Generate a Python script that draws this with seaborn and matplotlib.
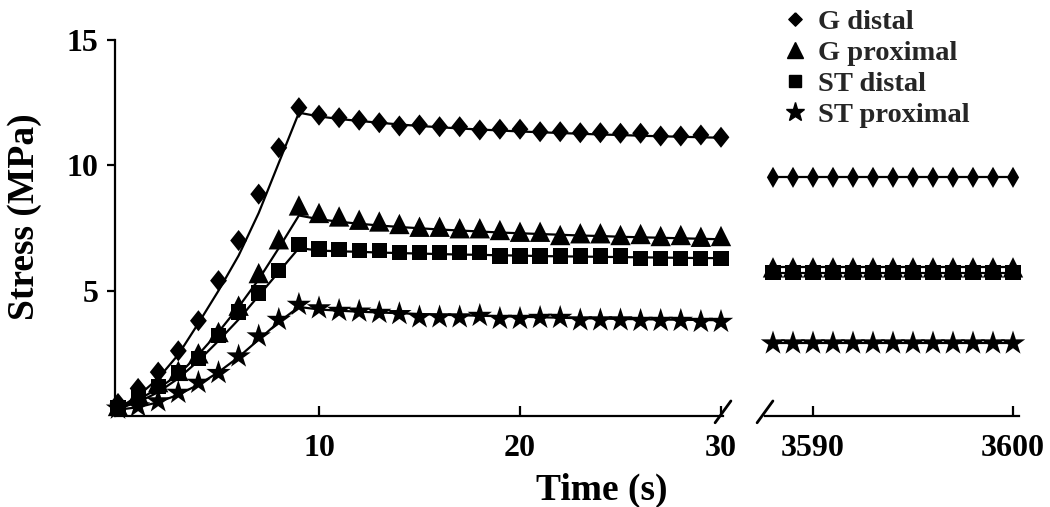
import numpy as np
import pandas as pd
import matplotlib
matplotlib.use("Agg")
import matplotlib.pyplot as plt
import seaborn as sns
from matplotlib.lines import Line2D

# ---------------- data ----------------
series_names = ["G distal", "G proximal", "ST distal", "ST proximal"]

time_left = list(range(0, 31))
g_distal = [0.5, 1.1, 1.75, 2.6, 3.8, 5.4, 7.0, 8.85, 10.7, 12.3,
            12.0, 11.9, 11.8, 11.7, 11.57, 11.61, 11.54, 11.54, 11.41, 11.44, 11.44,
            11.34, 11.34, 11.30, 11.30, 11.28, 11.28, 11.17, 11.17, 11.21, 11.12]
g_proximal = [0.4, 0.9, 1.35, 1.8, 2.5, 3.35, 4.4, 5.7, 7.05, 8.4,
              8.1, 7.96, 7.83, 7.76, 7.66, 7.55, 7.55, 7.49, 7.49, 7.42, 7.35,
              7.35, 7.22, 7.29, 7.29, 7.22, 7.26, 7.18, 7.22, 7.15, 7.18]
st_distal = [0.35, 0.74, 1.17, 1.75, 2.3, 3.2, 4.15, 4.91, 5.8, 6.83,
             6.66, 6.63, 6.61, 6.61, 6.51, 6.51, 6.51, 6.51, 6.51, 6.38, 6.38,
             6.38, 6.38, 6.38, 6.38, 6.38, 6.29, 6.29, 6.29, 6.29, 6.29]
st_proximal = [0.3, 0.39, 0.59, 0.93, 1.33, 1.72, 2.38, 3.18, 3.84, 4.44,
               4.3, 4.2, 4.17, 4.12, 4.07, 3.94, 3.94, 3.94, 4.0, 3.88, 3.88,
               3.92, 3.92, 3.82, 3.82, 3.82, 3.80, 3.80, 3.80, 3.76, 3.76]

# fitted model curves (solid lines)
fit_g_distal = [0.3, 0.8, 1.5, 2.45, 3.7, 5.0, 6.4, 8.1, 10.1, 12.1,
                11.95, 11.85, 11.77, 11.70, 11.63, 11.57, 11.52, 11.47, 11.43, 11.39, 11.35,
                11.32, 11.29, 11.26, 11.23, 11.21, 11.18, 11.16, 11.14, 11.12, 11.10]
fit_g_proximal = [0.3, 0.65, 1.1, 1.65, 2.45, 3.35, 4.35, 5.45, 6.7, 8.0,
                  7.85, 7.75, 7.67, 7.6, 7.54, 7.49, 7.44, 7.4, 7.36, 7.32, 7.29,
                  7.26, 7.23, 7.2, 7.18, 7.15, 7.13, 7.11, 7.09, 7.07, 7.05]
fit_st_distal = [0.3, 0.55, 0.95, 1.5, 2.2, 3.0, 3.85, 4.8, 5.75, 6.7,
                 6.6, 6.57, 6.55, 6.52, 6.5, 6.48, 6.46, 6.44, 6.43, 6.41, 6.4,
                 6.38, 6.37, 6.36, 6.35, 6.34, 6.33, 6.32, 6.31, 6.3, 6.3]
fit_st_proximal = [0.25, 0.35, 0.55, 0.85, 1.25, 1.75, 2.35, 3.05, 3.75, 4.35,
                   4.25, 4.2, 4.16, 4.13, 4.1, 4.07, 4.04, 4.02, 4.0, 3.98, 3.96,
                   3.94, 3.92, 3.9, 3.89, 3.87, 3.86, 3.85, 3.84, 3.83, 3.82]

time_right = list(range(3588, 3601))
g_distal_late = [9.52] * 13
g_proximal_late = [5.93] * 13
st_distal_late = [5.72] * 13
st_proximal_late = [2.9] * 13

left_ticks = [10, 20, 30]
right_ticks = [3590, 3600]
y_ticks = [5, 10, 15]

# ---------------- frames ----------------
pts_left = pd.DataFrame({
    "time": time_left * 4,
    "stress": g_distal + g_proximal + st_distal + st_proximal,
    "series": sum([[n] * len(time_left) for n in series_names], []),
})
fit_left = pd.DataFrame({
    "time": time_left * 4,
    "stress": fit_g_distal + fit_g_proximal + fit_st_distal + fit_st_proximal,
    "series": sum([[n] * len(time_left) for n in series_names], []),
})
pts_right = pd.DataFrame({
    "time": time_right * 4,
    "stress": g_distal_late + g_proximal_late + st_distal_late + st_proximal_late,
    "series": sum([[n] * len(time_right) for n in series_names], []),
})

# ---------------- style ----------------
sns.set_theme(style="white")
plt.rcParams["font.family"] = ["Liberation Serif", "DejaVu Serif"]
plt.rcParams["font.weight"] = "bold"
plt.rcParams["axes.labelweight"] = "bold"

black = {n: "black" for n in series_names}
diamond = [(0, 1), (0.8, 0), (0, -1), (-0.8, 0), (0, 1)]
thin_diamond = [(0, 1), (0.58, 0), (0, -1), (-0.58, 0), (0, 1)]
legend_diamond = [(0, 1), (1, 0), (0, -1), (-1, 0), (0, 1)]
markers_left = {"G distal": diamond, "G proximal": "^", "ST distal": "s", "ST proximal": "*"}
markers_right = {"G distal": thin_diamond, "G proximal": "^", "ST distal": "s", "ST proximal": "*"}
sizes = {"G distal": 230, "G proximal": 215, "ST distal": 120, "ST proximal": 340}

W, H = 1050, 507
fig = plt.figure(figsize=(W / 100, H / 100), dpi=100)
ax1 = fig.add_axes([115 / W, (H - 416) / H, (723 - 115) / W, 376 / H])
ax2 = fig.add_axes([765 / W, (H - 416) / H, (1019 - 765) / W, 376 / H])

for ax, pts, fit, mk in [(ax1, pts_left, fit_left, markers_left),
                         (ax2, pts_right, pts_right, markers_right)]:
    sns.lineplot(data=fit, x="time", y="stress", hue="series", palette=black,
                 estimator=None, linewidth=1.6, legend=False, ax=ax, zorder=2)
    sns.scatterplot(data=pts, x="time", y="stress", hue="series", style="series",
                    size="series", palette=black, markers=mk, sizes=sizes,
                    linewidth=0, legend=False, ax=ax, zorder=3, clip_on=False)

ax1.set_xlim(-0.15, 30.1)
ax2.set_xlim(3587.6, 3600.3)
for ax in (ax1, ax2):
    ax.set_ylim(0, 15)
    ax.set_facecolor("white")
    for s in ("top", "right"):
        ax.spines[s].set_visible(False)
    ax.spines["bottom"].set_linewidth(1.6)
    ax.spines["bottom"].set_color("black")
    ax.tick_params(axis="x", direction="in", length=7, width=1.6, colors="black",
                   labelsize=23, pad=13, bottom=True)

ax1.spines["left"].set_linewidth(1.6)
ax1.spines["left"].set_color("black")
ax1.set_yticks(y_ticks)
ax1.tick_params(axis="y", direction="out", length=6, width=1.6, colors="black",
                labelsize=23, pad=6, left=True)
ax1.set_xticks(left_ticks)
ax1.set_xticklabels([str(t) for t in left_ticks])

ax2.spines["left"].set_visible(False)
ax2.set_yticks([])
ax2.set_xticks(right_ticks)
ax2.set_xticklabels([str(t) for t in right_ticks])

ax1.set_ylabel("Stress (MPa)", fontsize=27, fontweight="bold", color="black")
ax1.yaxis.set_label_coords(-0.12, 0.53)
ax1.set_xlabel("Time (s)", fontsize=27, fontweight="bold", color="black")
ax1.xaxis.set_label_coords(0.80, -0.151)
ax2.set_xlabel("")
ax2.set_ylabel("")

# axis-break slashes
for ax, xc, k in ((ax1, 1.0, 1.0), (ax2, 0.0, 608 / 254)):
    ax.plot([xc - 0.013 * k, xc + 0.013 * k], [-0.018, 0.04],
            transform=ax.transAxes, color="black", lw=2, clip_on=False)

# legend
handles = [
    Line2D([], [], linestyle="none", marker=legend_diamond, markersize=9.6, color="black"),
    Line2D([], [], linestyle="none", marker="^", markersize=11, color="black"),
    Line2D([], [], linestyle="none", marker="s", markersize=8, color="black"),
    Line2D([], [], linestyle="none", marker="*", markersize=14, color="black"),
]
fig.legend(handles, series_names, loc="upper left", bbox_to_anchor=(786 / W, 0.983),
           frameon=False, prop={"family": "Liberation Serif", "weight": "bold", "size": 20.5},
           handlelength=0.6, handletextpad=0.53, labelspacing=0.18, borderpad=0,
           borderaxespad=0)

fig.savefig("out.png", dpi=100, facecolor="white")
